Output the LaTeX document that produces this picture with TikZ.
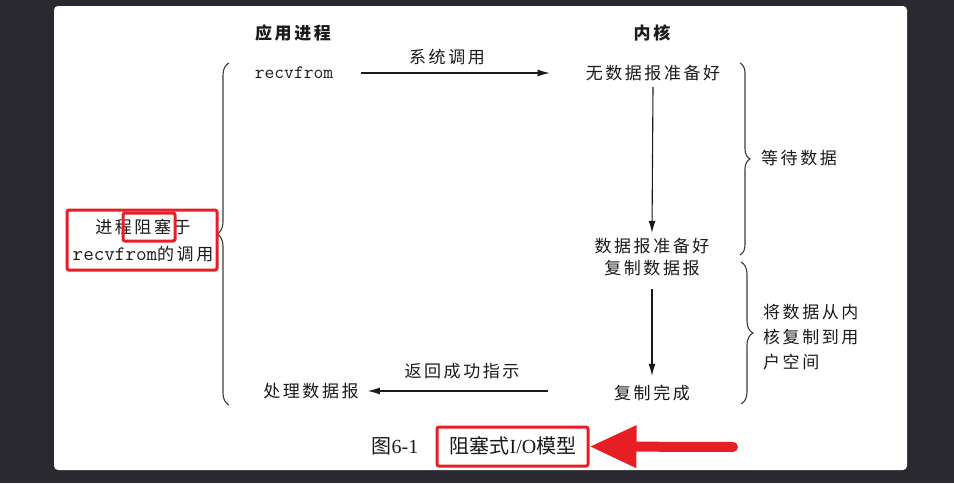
\documentclass[tikz,border=0pt]{standalone}
\usepackage{fontspec}
\setmainfont{Liberation Serif}
\newfontfamily\cjk{Noto Sans CJK SC}[LetterSpace=15]
\newfontfamily\cjkcap{Noto Sans CJK SC}
\usetikzlibrary{arrows.meta,decorations.pathreplacing}
\definecolor{bg}{HTML}{2A2930}
\definecolor{ink}{HTML}{1A1A1A}
\definecolor{redmark}{HTML}{E81E25}
\tikzset{
  txt/.style={text=ink, inner sep=0pt, font=\cjk\fontsize{17}{25}\selectfont},
  hdr/.style={txt, font=\cjk\bfseries\fontsize{17}{20}\selectfont},
  flow/.style={draw=ink, line width=1.1pt, -{Latex[length=12pt,width=7pt]}},
  brc/.style={draw=ink!85, line width=1.1pt, decorate, decoration={brace, amplitude=#1}},
  redbox/.style={draw=redmark, line width=3pt, rounded corners=2pt, inner sep=0pt},
}
\begin{document}
\begin{tikzpicture}[x=1pt,y=1pt]
\fill[bg] (0,0) rectangle (954,-483);
\useasboundingbox (0,0) rectangle (954,-483);
\fill[white, rounded corners=4pt] (54,-6) rectangle (907,-470);

% headers
\node[hdr] (app) at (293,-33) {应用进程};
\node[hdr] (kern) at (652,-33) {内核};

% application side
\node[txt, font=\ttfamily\fontsize{19}{20}\selectfont] (recv) at (294,-73) {recvfrom};
\node[txt] (syscall) at (447,-57) {系统调用};
\node[txt] (proc) at (311,-391) {处理数据报};
\node[txt] (ret) at (462,-371) {返回成功指示};

% kernel side
\node[txt] (nodata) at (653,-73) {无数据报准备好};
\node[txt] (ready) at (652,-246) {数据报准备好};
\node[txt] (copy) at (652,-268) {复制数据报};
\node[txt] (done) at (652,-393) {复制完成};

% brace labels
\node[txt] (wait) at (799,-158) {等待数据};
\node[txt, align=left, anchor=west] (copyk) at (763,-337) {将数据从内\\核复制到用\\户空间};
\node[txt, align=center, font=\cjk\fontsize{17}{27}\selectfont] (blk) at (143,-241) {进程阻塞于\\{\ttfamily\fontsize{20.5}{27}\selectfont recvfrom}的调用};

% connectors
\draw[flow] ([xshift=28pt]recv.east) -- ([xshift=-36pt]nodata.west);
\draw[flow] ([yshift=-6pt]nodata.south) -- ([yshift=5pt]ready.north);
\draw[flow] ([yshift=-13pt]copy.south) -- ([yshift=9pt]done.north);
\draw[flow] ([xshift=-66pt,yshift=2pt]done.west) -- ([xshift=9pt]proc.east);

% braces
\coordinate (lbb) at (229,-405);
\coordinate (lbt) at (229,-63);
\draw[brc=12pt] (lbb) -- (lbt);
\coordinate (rat) at (740,-63);
\coordinate (rab) at (740,-255);
\draw[brc=10pt] (rat) -- (rab);
\coordinate (rbt) at (741,-262);
\coordinate (rbb) at (741,-404);
\draw[brc=12pt] (rbt) -- (rbb);

% caption
\node[text=ink, inner sep=0pt, font=\fontsize{20}{24}\selectfont] (fig) at (395,-446) {{\cjkcap 图}6-1};
\node[text=ink, inner sep=0pt, font=\fontsize{20}{24}\selectfont] (title) at (513,-446) {{\cjkcap 阻塞式}I/O{\cjkcap 模型}};

% red annotations
\node[redbox, minimum width=150pt, minimum height=60pt] (mark1) at (142,-240) {};
\node[redbox, minimum width=52pt, minimum height=28pt] (mark2) at (149,-227) {};
\node[redbox, minimum width=151pt, minimum height=39pt] (capbox) at (512.5,-446.5) {};
\coordinate (rtail) at (733,-447);
\draw[draw=redmark, line width=10pt, line cap=round, -{Triangle[length=47pt,width=40pt]}] (rtail) -- (capbox.east);
\end{tikzpicture}
\end{document}
